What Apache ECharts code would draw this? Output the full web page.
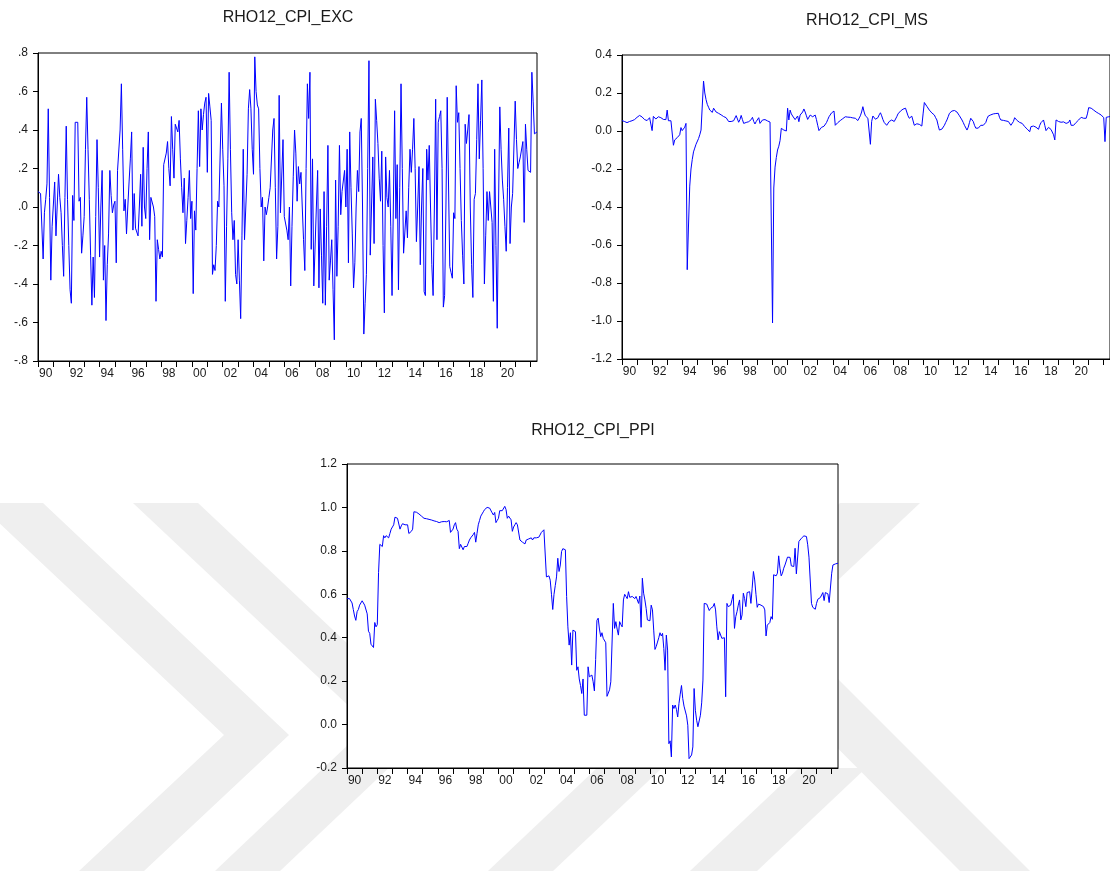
<!DOCTYPE html>
<html>
<head>
<meta charset="utf-8">
<script src="https://cdn.jsdelivr.net/npm/echarts@6/dist/echarts.min.js"></script>
<style>
html,body{margin:0;padding:0;background:#fff;}
#chart{width:1110px;height:871px;}
</style>
</head>
<body>
<div id="chart"></div>
<script>
// Monthly observations, first month = 1990M01
const START_YEAR = 1990;
const panelTitles = ['RHO12_CPI_EXC', 'RHO12_CPI_MS', 'RHO12_CPI_PPI'];

const rho12CpiExc = [
 0.08, 0.08, 0.07, 0.07, -0.27, -0.03, 0.04, 0.12, 0.51, 0.05, -0.38, -0.1,
 -0.09, 0.13, -0.15, -0.16, 0.17, 0.05, -0.03, -0.2, -0.36, 0.05, 0.42, 0.04,
 -0.2, -0.43, -0.5, 0.06, -0.07, 0.44, 0.44, 0.44, 0.03, 0.05, -0.24, -0.15,
 -0.05, 0.3, 0.57, 0.3, 0.04, -0.25, -0.51, -0.26, -0.47, -0.05, 0.35, 0.1,
 -0.26, 0.0, 0.19, -0.38, -0.2, -0.59, -0.3, -0.14, 0.19, 0.06, -0.03, 0.01,
 0.03, -0.29, 0.19, 0.19, 0.4, 0.64, 0.3, -0.02, 0.04, -0.14, 0.0, 0.13,
 0.25, 0.39, -0.12, 0.07, -0.11, -0.13, -0.15, 0.0, 0.17, -0.1, 0.31, 0.0,
 -0.06, 0.2, 0.39, -0.17, 0.05, 0.04, 0.0, -0.05, -0.49, -0.17, -0.22, -0.27,
 -0.23, -0.26, 0.22, 0.22, 0.28, 0.34, 0.2, 0.11, 0.47, 0.3, 0.15, 0.43,
 0.44, 0.39, 0.45, 0.25, 0.1, -0.03, 0.15, -0.19, -0.07, 0.05, 0.19, -0.06,
 0.03, -0.45, -0.02, -0.12, 0.2, 0.5, 0.21, 0.51, 0.4, 0.48, 0.54, 0.57,
 0.18, 0.59, 0.52, 0.45, -0.35, -0.3, -0.33, -0.2, 0.03, 0.0, 0.01, 0.54,
 0.3, 0.11, -0.49, -0.1, 0.25, 0.7, 0.3, -0.03, -0.17, -0.07, -0.35, -0.4,
 -0.17, -0.38, -0.58, -0.15, 0.3, -0.17, 0.0, 0.17, 0.51, 0.61, 0.51, 0.3,
 0.17, 0.78, 0.6, 0.53, 0.51, 0.2, 0.0, 0.05, -0.28, 0.0, -0.04, 0.0,
 0.05, 0.1, 0.1, 0.4, 0.46, 0.1, -0.27, -0.1, 0.58, -0.03, -0.02, 0.35,
 -0.05, -0.06, -0.12, -0.17, 0.0, -0.41, -0.1, 0.16, 0.4, 0.28, 0.03, 0.21,
 0.12, 0.18, 0.0, -0.17, -0.33, 0.2, 0.64, 0.46, 0.7, -0.22, 0.25, -0.41,
 -0.41, 0.0, 0.19, -0.42, -0.01, -0.25, -0.5, 0.08, -0.51, -0.1, 0.32, -0.38,
 -0.28, -0.17, -0.43, -0.69, 0.14, -0.36, -0.1, 0.32, -0.04, 0.08, 0.08, 0.19,
 0.0, 0.3, -0.29, 0.39, 0.1, -0.14, -0.42, -0.29, 0.0, 0.19, 0.08, 0.39,
 0.46, 0.0, -0.66, -0.5, -0.35, 0.2, 0.76, -0.25, 0.0, 0.26, -0.19, 0.56,
 0.45, 0.33, 0.15, 0.03, 0.29, -0.2, -0.55, 0.26, 0.05, 0.0, 0.19, -0.1,
 -0.46, 0.0, 0.5, -0.06, 0.22, -0.43, 0.1, 0.64, 0.2, -0.24, -0.13, -0.02,
 -0.16, 0.1, 0.3, 0.18, 0.3, 0.46, 0.2, -0.18, 0.0, 0.21, -0.3, 0.0,
 0.2, -0.44, -0.46, 0.3, 0.14, 0.32, 0.0, -0.3, -0.46, 0.0, 0.56, -0.17,
 0.44, 0.47, 0.5, 0.2, -0.52, -0.46, 0.0, 0.57, 0.56, -0.31, -0.34, -0.37,
 -0.03, -0.06, 0.63, 0.44, 0.49, 0.2, -0.07, -0.25, -0.4, 0.43, 0.33, 0.4,
 0.48, 0.0, -0.3, -0.47, 0.04, 0.07, 0.35, 0.64, 0.25, 0.45, 0.66, 0.2,
 -0.4, -0.15, 0.08, -0.07, 0.08, 0.0, -0.08, -0.49, 0.3, -0.2, -0.63, 0.0,
 0.52, 0.3, 0.14, 0.04, -0.1, -0.23, 0.1, 0.41, -0.19, 0.0, 0.07, 0.07,
 0.55, 0.35, 0.2, 0.23, 0.26, 0.27, 0.34, -0.08, 0.43, 0.3, 0.19, 0.19,
 0.18, 0.7, 0.55, 0.38, 0.38, 0.39
];

const rho12CpiMs = [
 0.055, 0.054, 0.05, 0.046, 0.044, 0.047, 0.05, 0.052, 0.054, 0.055, 0.06, 0.065,
 0.072, 0.08, 0.082, 0.078, 0.074, 0.072, 0.06, 0.053, 0.055, 0.06, 0.07, 0.065,
 0.002, 0.077, 0.07, 0.063, 0.068, 0.075, 0.079, 0.07, 0.062, 0.061, 0.058, 0.06,
 0.11, 0.054, 0.055, 0.054, 0.053, -0.075, -0.047, -0.045, -0.035, -0.025, -0.02, 0.018,
 0.002, 0.003, 0.02, 0.04, -0.73, -0.5, -0.29, -0.2, -0.15, -0.11, -0.09, -0.07,
 -0.074, -0.04, -0.02, 0.005, 0.01, 0.263, 0.2, 0.165, 0.14, 0.125, 0.11, 0.1,
 0.098, 0.12, 0.11, 0.1, 0.098, 0.093, 0.09, 0.085, 0.079, 0.076, 0.074, 0.07,
 0.06, 0.05, 0.048, 0.05, 0.052, 0.054, 0.06, 0.081, 0.075, 0.046, 0.06, 0.082,
 0.06, 0.04, 0.042, 0.045, 0.048, 0.049, 0.055, 0.06, 0.072, 0.05, 0.037, 0.05,
 0.06, 0.07, 0.04, 0.05, 0.058, 0.063, 0.06, 0.057, 0.053, 0.049, 0.047, 0.044,
 -1.01, -0.3, -0.19, -0.14, -0.1, -0.08, -0.05, 0.014, 0.01, 0.005, 0.002, 0.0,
 0.12, 0.058, 0.11, 0.09, 0.079, 0.07, 0.06, 0.053, 0.079, 0.049, 0.084, 0.09,
 0.1, 0.116, 0.1, 0.08, 0.061, 0.07, 0.084, 0.08, 0.075, 0.08, 0.084, 0.06,
 0.03, 0.002, 0.01, 0.019, 0.02, 0.025, 0.035, 0.044, 0.06, 0.075, 0.085, 0.095,
 0.1, 0.105, 0.03, 0.038, 0.044, 0.05, 0.055, 0.058, 0.065, 0.07, 0.075, 0.074,
 0.073, 0.072, 0.072, 0.07, 0.069, 0.068, 0.067, 0.06, 0.055, 0.06, 0.08, 0.1,
 0.128, 0.1, 0.08, 0.07, 0.067, 0.0, -0.07, 0.05, 0.079, 0.07, 0.062, 0.058,
 0.07, 0.085, 0.096, 0.08, 0.06, 0.045, 0.035, 0.03, 0.04, 0.05, 0.06, 0.058,
 0.055, 0.05, 0.06, 0.075, 0.09, 0.1, 0.105, 0.11, 0.115, 0.118, 0.12, 0.1,
 0.08, 0.067, 0.072, 0.078, 0.08, 0.03, 0.035, 0.038, 0.04, 0.035, 0.03, 0.026,
 0.09, 0.15, 0.145, 0.13, 0.12, 0.11, 0.1, 0.095, 0.09, 0.084, 0.07, 0.058,
 0.03, 0.005, 0.008, 0.01, 0.014, 0.03, 0.045, 0.058, 0.075, 0.093, 0.1, 0.105,
 0.11, 0.108, 0.105, 0.1, 0.09, 0.08, 0.07, 0.058, 0.045, 0.03, 0.02, 0.005,
 0.02, 0.045, 0.067, 0.06, 0.05, 0.03, 0.015, 0.009, 0.015, 0.022, 0.03, 0.03,
 0.03, 0.03, 0.045, 0.065, 0.079, 0.082, 0.085, 0.088, 0.09, 0.09, 0.092, 0.093,
 0.093, 0.07, 0.058, 0.057, 0.056, 0.055, 0.053, 0.052, 0.05, 0.04, 0.03, 0.026,
 0.05, 0.07, 0.06, 0.055, 0.05, 0.045, 0.042, 0.04, 0.03, 0.023, 0.015, 0.01,
 0.005, -0.004, 0.023, 0.025, 0.026, 0.023, 0.02, 0.019, 0.009, 0.03, 0.044, 0.05,
 0.058, 0.03, 0.002, 0.01, 0.019, 0.012, 0.008, 0.005, -0.02, -0.047, 0.058, 0.054,
 0.05, 0.048, 0.046, 0.044, 0.048, 0.053, 0.04, 0.03, 0.045, 0.058, 0.03, 0.026,
 0.03, 0.037, 0.045, 0.05, 0.058, 0.065, 0.072, 0.07, 0.067, 0.067, 0.067, 0.09,
 0.123, 0.122, 0.12, 0.115, 0.11, 0.105, 0.1, 0.096, 0.092, 0.088, 0.084, 0.075,
 0.07, -0.056, 0.072, 0.074, 0.075, 0.076
];

const rho12CpiPpi = [
 0.58, 0.58, 0.58, 0.58, 0.56, 0.53, 0.5, 0.48, 0.52, 0.53, 0.55, 0.56,
 0.57, 0.57, 0.55, 0.55, 0.51, 0.43, 0.42, 0.37, 0.365, 0.355, 0.47, 0.45,
 0.46, 0.7, 0.83, 0.835, 0.82, 0.87, 0.86, 0.87, 0.865, 0.86, 0.88, 0.9,
 0.91, 0.92, 0.955, 0.95, 0.95, 0.95, 0.9, 0.915, 0.925, 0.93, 0.92, 0.915,
 0.92, 0.88, 0.875, 0.89, 0.9, 0.98, 0.98, 0.978, 0.975, 0.97, 0.965, 0.96,
 0.955, 0.95, 0.95, 0.948, 0.946, 0.945, 0.944, 0.942, 0.94, 0.938, 0.936, 0.935,
 0.933, 0.93, 0.932, 0.934, 0.935, 0.935, 0.935, 0.934, 0.935, 0.94, 0.885, 0.89,
 0.9, 0.92, 0.93, 0.9, 0.89, 0.81, 0.83, 0.83, 0.805, 0.82, 0.82, 0.82,
 0.835, 0.85, 0.86, 0.865, 0.875, 0.885, 0.84, 0.88, 0.92, 0.94, 0.96, 0.97,
 0.98, 0.99, 0.997, 1.0, 1.008, 0.997, 0.99, 0.975, 0.965, 0.977, 0.93, 0.94,
 0.95, 0.985, 0.985, 0.985, 0.99, 1.005, 0.99, 0.95, 0.96, 0.965, 0.943, 0.89,
 0.91, 0.92, 0.93, 0.92, 0.915, 0.85, 0.843, 0.84, 0.835, 0.832, 0.85, 0.852,
 0.855, 0.858, 0.86, 0.85, 0.86, 0.865, 0.86, 0.863, 0.863, 0.87, 0.885, 0.89,
 0.897, 0.9, 0.68, 0.675, 0.685, 0.665, 0.6, 0.53, 0.6, 0.64, 0.68, 0.766,
 0.705, 0.735, 0.797, 0.81, 0.817, 0.805, 0.59, 0.45, 0.366, 0.423, 0.274, 0.435,
 0.43, 0.428, 0.25, 0.266, 0.21, 0.18, 0.143, 0.21, 0.043, 0.043, 0.043, 0.266,
 0.22, 0.225, 0.228, 0.197, 0.155, 0.3, 0.48, 0.49, 0.44, 0.405, 0.423, 0.397,
 0.39, 0.377, 0.13, 0.13, 0.16, 0.197, 0.205, 0.558, 0.443, 0.474, 0.44, 0.412,
 0.474, 0.46, 0.45, 0.574, 0.6, 0.59, 0.58, 0.612, 0.586, 0.58, 0.59, 0.585,
 0.58, 0.59, 0.597, 0.558, 0.592, 0.448, 0.674, 0.605, 0.574, 0.535, 0.482, 0.48,
 0.478, 0.55, 0.528, 0.435, 0.346, 0.36, 0.38, 0.4, 0.423, 0.408, 0.42, 0.35,
 0.25, 0.412, 0.343, -0.088, -0.075, -0.149, 0.09, 0.074, 0.09, 0.07, 0.035, 0.097,
 0.14, 0.18, 0.12, 0.085, 0.08, 0.04, -0.003, -0.157, -0.165, -0.14, -0.103, 0.166,
 0.066, 0.02, -0.01, -0.018, 0.043, 0.1, 0.205, 0.558, 0.555, 0.555, 0.55, 0.525,
 0.535, 0.54, 0.543, 0.558, 0.528, 0.45, 0.39, 0.428, 0.423, 0.397, 0.4, 0.4,
 0.128, 0.558, 0.543, 0.545, 0.55, 0.575, 0.6, 0.443, 0.497, 0.52, 0.55, 0.574,
 0.482, 0.505, 0.605, 0.58, 0.543, 0.608, 0.61, 0.612, 0.558, 0.628, 0.705, 0.666,
 0.6, 0.54, 0.555, 0.553, 0.55, 0.546, 0.543, 0.528, 0.408, 0.458, 0.45, 0.47,
 0.497, 0.485, 0.69, 0.688, 0.685, 0.697, 0.777, 0.72, 0.685, 0.697, 0.72, 0.735,
 0.743, 0.771, 0.771, 0.77, 0.731, 0.73, 0.728, 0.812, 0.694, 0.685, 0.843, 0.85,
 0.858, 0.865, 0.869, 0.868, 0.866, 0.828, 0.771, 0.771, 0.558, 0.54, 0.535, 0.531,
 0.558, 0.577, 0.58, 0.585, 0.592, 0.608, 0.571, 0.608, 0.605, 0.602, 0.562, 0.566,
 0.697, 0.735, 0.737, 0.74, 0.742, 0.743
];

// y-axis scales (min, max, step) for each panel
const excScale = [-0.8, 0.8, 0.2];
const msScale = [-1.2, 0.4, 0.2];
const ppiScale = [-0.2, 1.2, 0.2];

// monthly category labels
const nMonths = Math.max(rho12CpiExc.length, rho12CpiMs.length, rho12CpiPpi.length);
const months = [];
for (let i = 0; i < nMonths; i++) {
  const y = START_YEAR + Math.floor(i / 12);
  const m = (i % 12) + 1;
  months.push(y + '-' + (m < 10 ? '0' + m : m));
}

const FONT = '"Liberation Sans", Arial, Helvetica, sans-serif';
const TXT = '#1a1a1a';

function fmtNoLead(v) {
  if (Math.abs(v) < 1e-9) return '.0';
  const s = Math.abs(v).toFixed(1).replace(/^0/, '');
  return v < 0 ? '-' + s : s;
}
function fmtOne(v) {
  if (Math.abs(v) < 1e-9) return '0.0';
  return v.toFixed(1);
}

const grids = [
  {left: 38, top: 53, width: 499, height: 308},
  {left: 622, top: 55, width: 491, height: 304},
  {left: 347, top: 464, width: 491, height: 304}
];

function xAxisFor(gi) {
  return {
    type: 'category', gridIndex: gi, data: months, boundaryGap: false, position: 'bottom',
    axisLine: {show: true, onZero: false, lineStyle: {color: '#000', width: 1}},
    axisTick: {show: true, length: 6, interval: (idx) => idx % 12 === 0, lineStyle: {color: '#000', width: 1}},
    axisLabel: {show: true, interval: (idx) => idx % 24 === 6, margin: 7,
      formatter: (val) => String(val).slice(2, 4),
      fontSize: 12, fontFamily: FONT, color: TXT},
    splitLine: {show: false}
  };
}
function yAxisFor(gi, sc, fmt) {
  return {
    type: 'value', gridIndex: gi, min: sc[0], max: sc[1], interval: sc[2],
    axisLine: {show: true, onZero: false, lineStyle: {color: '#000', width: 1}},
    axisTick: {show: true, length: 5, lineStyle: {color: '#000', width: 1}},
    axisLabel: {show: true, margin: 10, formatter: fmt, fontSize: 12, fontFamily: FONT, color: TXT},
    splitLine: {show: false}
  };
}

function lineSeries(gi, data) {
  return {
    type: 'line', xAxisIndex: gi, yAxisIndex: gi, data: data,
    showSymbol: false, symbol: 'none', smooth: false,
    lineStyle: {color: '#0000ff', width: 1},
    itemStyle: {color: '#0000ff'},
    emphasis: {disabled: true}, silent: true
  };
}

// light grey watermark chevrons in the background (decoration only)
const wm = '#efefef';
const watermark = [
  [[-22,503],[43,503],[289,735],[144,871],[79,871],[224,735]],
  [[133,503],[198,503],[434,725],[280,871],[215,871],[369,725]],
  [[840,503],[920,503],[787,628],[1030,871],[960,871],[713,623]],
  [[597,768],[662,768],[553,871],[488,871]],
  [[799,768],[866,768],[757,871],[690,871]]
].map(pts => ({type: 'polygon', z: -10, silent: true, shape: {points: pts}, style: {fill: wm}}));

const titleCenters = [[288, 18], [867, 21], [593, 431]];
const titleEls = panelTitles.map((t, i) => ({
  type: 'text', x: titleCenters[i][0], y: titleCenters[i][1], z: 10, silent: true,
  style: {text: t, font: '16px ' + FONT, fill: TXT, textAlign: 'center', textVerticalAlign: 'middle', align: 'center', verticalAlign: 'middle'}
}));

const chart = echarts.init(document.getElementById('chart'), null, {renderer: 'canvas'});
chart.setOption({
  animation: false,
  backgroundColor: '#ffffff',
  graphic: {elements: watermark.concat(titleEls)},
  grid: grids.map(g => Object.assign({show: true, backgroundColor: '#ffffff', borderColor: '#000', borderWidth: 1, containLabel: false}, g)),
  xAxis: [xAxisFor(0), xAxisFor(1), xAxisFor(2)],
  yAxis: [yAxisFor(0, excScale, fmtNoLead), yAxisFor(1, msScale, fmtOne), yAxisFor(2, ppiScale, fmtOne)],
  series: [lineSeries(0, rho12CpiExc), lineSeries(1, rho12CpiMs), lineSeries(2, rho12CpiPpi)]
});
</script>
</body>
</html>
